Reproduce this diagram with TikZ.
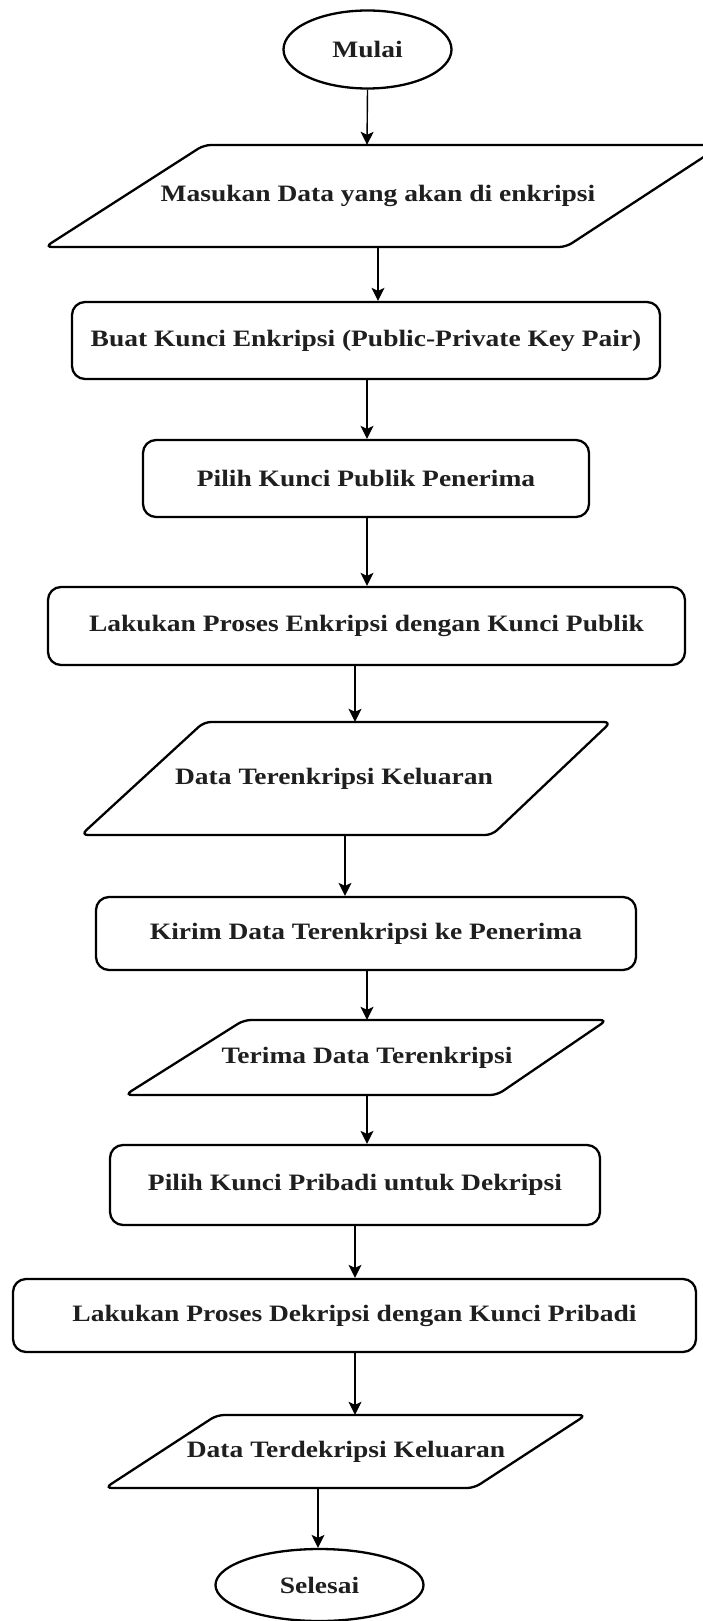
\documentclass[tikz,border=0pt]{standalone}
\usepackage{fontspec}
\setmainfont{Liberation Serif}[FakeStretch=1.17]
\usetikzlibrary{arrows.meta,shapes.geometric}
\begin{document}
\begin{tikzpicture}[x=1pt,y=-1pt,
  every node/.style={font=\bfseries\fontsize{23.5}{28}\selectfont, text=black!88, inner sep=0pt},
  term/.style={ellipse, draw, line width=2.3pt},
  proc/.style={rectangle, draw, line width=2.3pt, rounded corners=13pt},
  io/.style={rectangle},
  ioshape/.style={draw, line width=2.3pt, rounded corners=7pt},
  arr/.style={line width=1.4pt, -{Stealth[length=13pt,width=13pt,inset=3pt]}}]
\useasboundingbox (0,0) rectangle (702,1621);
\fill[white] (0,0) rectangle (702,1621);

% terminals
\node[term, minimum width=168pt, minimum height=78pt] (m1) at (367.5,49.5) {Mulai};
\node[term, minimum width=208pt, minimum height=72pt] (m2) at (319.5,1585) {Selesai};

% processes
\node[proc, minimum width=588pt, minimum height=77pt] (b2) at (366,340.5) {Buat Kunci Enkripsi (Public-Private Key Pair)};
\node[proc, minimum width=446pt, minimum height=77pt] (b3) at (366,478.5) {Pilih Kunci Publik Penerima};
\node[proc, minimum width=637pt, minimum height=78pt] (b4) at (366.5,626) {Lakukan Proses Enkripsi dengan Kunci Publik};
\node[proc, minimum width=540pt, minimum height=73pt] (b5) at (366,933.5) {Kirim Data Terenkripsi ke Penerima};
\node[proc, minimum width=490pt, minimum height=80pt] (b6) at (355,1185) {Pilih Kunci Pribadi untuk Dekripsi};
\node[proc, minimum width=683pt, minimum height=73pt] (b7) at (354.5,1315.5) {Lakukan Proses Dekripsi dengan Kunci Pribadi};

% input / output parallelograms
\draw[ioshape] (45,247) -- (204,145) -- (722,145) -- (566,247) -- cycle;
\node[io, minimum height=102pt] (p1) at (378,196) {Masukan Data yang akan di enkripsi};
\draw[ioshape] (81,835) -- (204,722) -- (611,722) -- (492,835) -- cycle;
\node[io, minimum height=113pt] (p2) at (334,778.5) {Data Terenkripsi Keluaran};
\draw[ioshape] (125,1095) -- (244,1020) -- (607,1020) -- (497,1095) -- cycle;
\node[io, minimum height=75pt] (p3) at (367,1057.5) {Terima Data Terenkripsi};
\draw[ioshape] (105,1488) -- (217,1415) -- (586,1415) -- (474,1488) -- cycle;
\node[io, minimum height=73pt] (p4) at (346,1451.5) {Data Terdekripsi Keluaran};

% connectors
\draw[arr] (m1.south) -- ([xshift=-11pt]p1.north);
\draw[arr] (p1.south) -- ([xshift=12pt]b2.north);
\draw[arr] ([xshift=1pt]b2.south) -- ([xshift=1pt]b3.north);
\draw[arr] ([xshift=1pt]b3.south) -- ([xshift=0.5pt]b4.north);
\draw[arr] ([xshift=-11.5pt]b4.south) -- ([xshift=21pt]p2.north);
\draw[arr] ([xshift=11pt]p2.south) -- ([xshift=-21pt]b5.north);
\draw[arr] ([xshift=1pt]b5.south) -- (p3.north);
\draw[arr] (p3.south) -- ([xshift=12pt]b6.north);
\draw[arr] (b6.south) -- ([xshift=0.5pt]b7.north);
\draw[arr] ([xshift=0.5pt]b7.south) -- ([xshift=9pt]p4.north);
\draw[arr] ([xshift=-28pt]p4.south) -- ([xshift=-1.5pt]m2.north);
\end{tikzpicture}
\end{document}
